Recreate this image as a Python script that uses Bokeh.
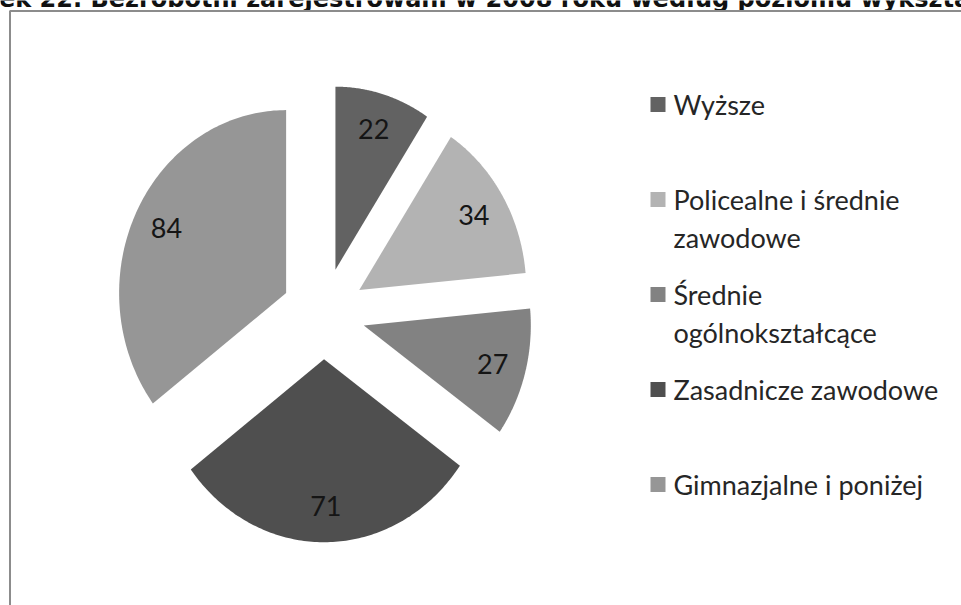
import numpy as np
from bokeh.plotting import figure
from bokeh.models import Range1d
from bokeh.core.properties import value
from bokeh.embed import file_html
from bokeh.resources import INLINE

# ---- data ----
title = "Rysunek 22. Bezrobotni zarejestrowani w 2008 roku według poziomu wykształcenia"
categories = ["Wyższe", "Policealne i średnie\nzawodowe", "Średnie\nogólnokształcące",
              "Zasadnicze zawodowe", "Gimnazjalne i poniżej"]
values = [22, 34, 27, 71, 84]
colors = ["#626262", "#b3b3b3", "#828282", "#4f4f4f", "#969696"]

# ---- layout constants ----
W, H = 961, 605
CX, CY = 323, 313
RX, RY = 167, 183
EXPLODE = 0.25
LABEL_R = 0.8
LEG_X, LEG_TEXT_X = 657.5, 673
LEG_TOP, LEG_STEP, LINE_H = 104, 95, 38
FONT = "Lato"

p = figure(width=W, height=H, x_range=Range1d(0, W), y_range=Range1d(H, 0),
           output_backend="svg", toolbar_location=None, min_border=0,
           styles={"position": "absolute", "left": "0px", "top": "0px"})
p.axis.visible = False
p.grid.visible = False
p.outline_line_color = None
p.background_fill_color = "white"
p.border_fill_color = "white"

# title (cut at the top edge of the page, as in the source image)
p.text(x=[-83], y=[12], text=[title], text_font=value("DejaVu Sans"),
       text_font_style="bold", text_font_size="24px", text_color="#111111",
       text_baseline="bottom", text_align="left")

# chart frame
p.quad(left=[9.5], right=[1200], top=[10.5], bottom=[900], fill_color="white",
       line_color="#8c8c8c", line_width=2)

# pie slices
total = sum(values)
ang = np.cumsum([0] + values) / total * 2 * np.pi
xs, ys, lx, ly = [], [], [], []
for i, v in enumerate(values):
    a0, a1 = ang[i], ang[i + 1]
    m = (a0 + a1) / 2
    ax = CX + EXPLODE * RX * np.sin(m)
    ay = CY - EXPLODE * RY * np.cos(m)
    t = np.linspace(a0, a1, 120)
    xs.append([ax] + list(ax + RX * np.sin(t)))
    ys.append([ay] + list(ay - RY * np.cos(t)))
    lx.append(ax + LABEL_R * RX * np.sin(m))
    ly.append(ay - LABEL_R * RY * np.cos(m))

p.patches(xs=xs, ys=ys, fill_color=colors, line_color=None)
p.text(x=lx, y=ly, text=[str(v) for v in values], text_font=value(FONT),
       text_font_size="27px", text_color="#151515", text_align="center",
       text_baseline="middle")

# legend
leg_y = [LEG_TOP + i * LEG_STEP for i in range(len(categories))]
p.rect(x=[LEG_X] * len(categories), y=leg_y, width=15, height=15,
       fill_color=colors, line_color=None)
tx, ty, tt = [], [], []
for i, lab in enumerate(categories):
    for j, line in enumerate(lab.split("\n")):
        tx.append(LEG_TEXT_X)
        ty.append(leg_y[i] + j * LINE_H)
        tt.append(line)
p.text(x=tx, y=ty, text=tt, text_font=value(FONT), text_font_size="27px",
       text_color="#262626", text_align="left", text_baseline="middle")

open("out.html", "w").write(file_html(p, INLINE))
